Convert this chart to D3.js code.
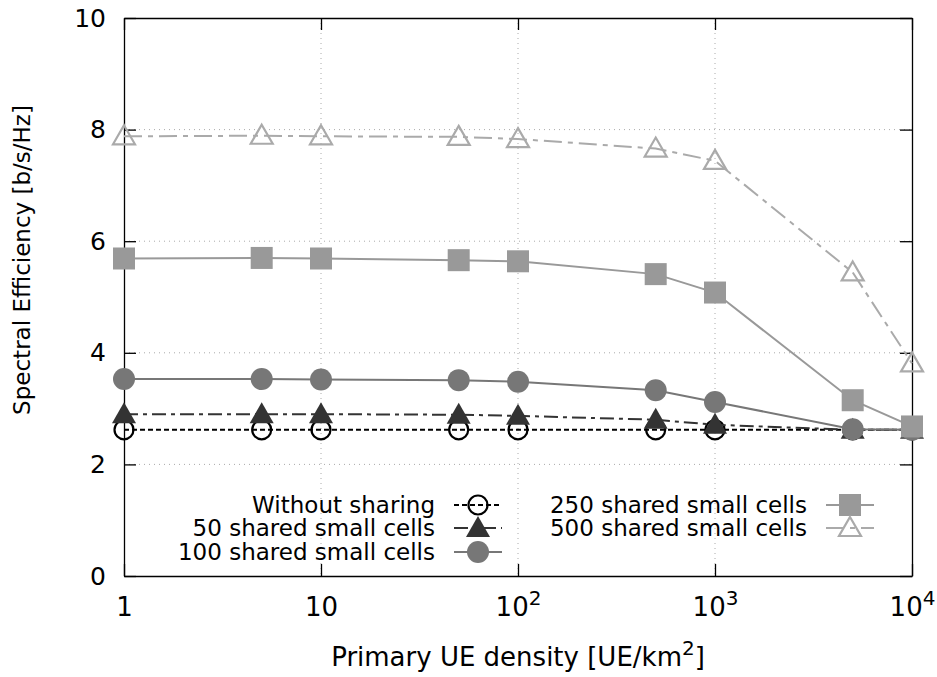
<meta charset="utf-8">
<html>
<head>
<style>
  body { margin: 0; background: #fff; }
  svg text { font-family: "DejaVu Sans", sans-serif; fill: #000; }
</style>
</head>
<body>
<script src="https://d3js.org/d3.v7.min.js"></script>
<div id="chart"></div>
<script>
// data
var density = [1, 5, 10, 50, 100, 500, 1000, 5000, 10000];
var noSharing = [2.62, 2.62, 2.62, 2.62, 2.62, 2.62, 2.62, 2.62, 2.62];
var shared50  = [2.90, 2.90, 2.90, 2.89, 2.87, 2.80, 2.71, 2.62, 2.62];
var shared100 = [3.53, 3.53, 3.52, 3.51, 3.48, 3.33, 3.12, 2.63, 2.62];
var shared250 = [5.69, 5.70, 5.69, 5.66, 5.64, 5.41, 5.08, 3.15, 2.68];
var shared500 = [7.88, 7.89, 7.88, 7.87, 7.83, 7.66, 7.44, 5.44, 3.81];
var seriesNames = ["Without sharing", "50 shared small cells", "100 shared small cells",
                   "250 shared small cells", "500 shared small cells"];
var xTicks = [1, 10, 100, 1000, 10000];
var yTicks = [0, 2, 4, 6, 8, 10];

var W = 937, H = 677;
var margin = {top: 18, right: 25, bottom: 101, left: 124};
var width = W - margin.left - margin.right,
    height = H - margin.top - margin.bottom;

var svg = d3.select("#chart").append("svg")
  .attr("width", W).attr("height", H);
var g = svg.append("g")
  .attr("transform", "translate(" + margin.left + "," + margin.top + ")");

var x = d3.scaleLog().domain([1, 1e4]).range([0, width]);
var y = d3.scaleLinear().domain([0, 10]).range([height, 0]);

// grid
g.append("g")
  .selectAll("line").data(xTicks.slice(1, -1)).enter().append("line")
  .attr("x1", d => x(d)).attr("x2", d => x(d))
  .attr("y1", 0).attr("y2", height)
  .attr("stroke", "#aaa").attr("stroke-width", 1).attr("stroke-dasharray", "1,4");
g.append("g")
  .selectAll("line").data(yTicks.slice(1, -1)).enter().append("line")
  .attr("y1", d => y(d)).attr("y2", d => y(d))
  .attr("x1", 0).attr("x2", width)
  .attr("stroke", "#aaa").attr("stroke-width", 1).attr("stroke-dasharray", "1,4");

// axes (inward ticks, mirrored)
var xAxis = g.append("g").attr("transform", "translate(0," + height + ")")
  .call(d3.axisBottom(x).tickValues(xTicks).tickSizeInner(-12).tickSizeOuter(0)
    .tickFormat(""));
g.append("g").call(d3.axisTop(x).tickValues(xTicks).tickSizeInner(-12).tickSizeOuter(0).tickFormat(""));
g.append("g").call(d3.axisLeft(y).tickValues(yTicks).tickSizeInner(-12).tickSizeOuter(0).tickPadding(18)
    .tickFormat(d3.format("d")))
  .selectAll("text").style("font-size", "25px").attr("fill", "#000");
g.append("g").attr("transform", "translate(" + width + ",0)")
  .call(d3.axisRight(y).tickValues(yTicks).tickSizeInner(-12).tickSizeOuter(0).tickFormat(""));
g.selectAll(".domain").attr("stroke", "#000").attr("stroke-width", 1.3);
g.selectAll(".tick line").attr("stroke", "#000").attr("stroke-width", 1.3);

// x tick labels with superscripts
xAxis.selectAll(".tick").each(function(d) {
  var t = d3.select(this).append("text")
    .attr("y", 40).attr("text-anchor", "middle")
    .style("font-size", "26px");
  var e = Math.round(Math.log10(d));
  if (e < 2) {
    t.text(d);
  } else {
    t.append("tspan").text("10");
    t.append("tspan").attr("dy", -11).style("font-size", "20px").text(e);
  }
});

// axis titles
var xl = svg.append("text")
  .attr("x", margin.left + width / 2).attr("y", 666)
  .attr("text-anchor", "middle").style("font-size", "26px");
xl.append("tspan").text("Primary UE density [UE/km");
xl.append("tspan").attr("dy", -11).style("font-size", "20px").text("2");
xl.append("tspan").attr("dy", 11).text("]");

svg.append("text")
  .attr("transform", "translate(30,260) rotate(-90)")
  .attr("text-anchor", "middle").style("font-size", "23px")
  .text("Spectral Efficiency [b/s/Hz]");

// series styles
var styles = [
  {vals: noSharing, color: "#000", dash: "5,3", marker: "circleOpen"},
  {vals: shared50,  color: "#333", dash: "14,5,4,5", marker: "triangle"},
  {vals: shared100, color: "#777", dash: null, marker: "circle"},
  {vals: shared250, color: "#999", dash: null, marker: "square"},
  {vals: shared500, color: "#aaa", dash: "18,6,5,6", marker: "triangleOpen"}
];

function drawMarker(sel, s) {
  if (s.marker === "circleOpen") {
    sel.append("circle").attr("r", 9.5).attr("fill", "none")
      .attr("stroke", s.color).attr("stroke-width", 2.2);
  } else if (s.marker === "circle") {
    sel.append("circle").attr("r", 11).attr("fill", s.color);
  } else if (s.marker === "square") {
    sel.append("rect").attr("x", -11).attr("y", -11).attr("width", 22).attr("height", 22)
      .attr("fill", s.color);
  } else if (s.marker === "triangle") {
    sel.append("path").attr("d", "M0,-12L12,9L-12,9Z").attr("fill", s.color);
  } else if (s.marker === "triangleOpen") {
    sel.append("path").attr("d", "M0,-11L11,8L-11,8Z").attr("fill", "none")
      .attr("stroke", s.color).attr("stroke-width", 2.2);
  }
}

var line = d3.line().x(d => x(d[0])).y(d => y(d[1]));

styles.forEach(function(s) {
  var pts = density.map((d, i) => [d, s.vals[i]]);
  g.append("path").datum(pts)
    .attr("d", line).attr("fill", "none")
    .attr("stroke", s.color).attr("stroke-width", 2)
    .attr("stroke-dasharray", s.dash);
  g.append("g").selectAll("g").data(pts).enter().append("g")
    .attr("transform", d => "translate(" + x(d[0]) + "," + y(d[1]) + ")")
    .each(function() { drawMarker(d3.select(this), s); });
});

// legend
var legendPos = [
  {tx: 435, ly: 505}, {tx: 435, ly: 528}, {tx: 435, ly: 552},
  {tx: 807, ly: 505}, {tx: 807, ly: 528}
];
styles.forEach(function(s, i) {
  var p = legendPos[i];
  var lg = svg.append("g");
  lg.append("text").attr("x", p.tx).attr("y", p.ly + 8)
    .attr("text-anchor", "end").style("font-size", "23px").text(seriesNames[i]);
  lg.append("line").attr("x1", p.tx + 19).attr("x2", p.tx + 67)
    .attr("y1", p.ly).attr("y2", p.ly)
    .attr("stroke", s.color).attr("stroke-width", 2)
    .attr("stroke-dasharray", s.dash);
  var m = lg.append("g").attr("transform", "translate(" + (p.tx + 43) + "," + p.ly + ")");
  drawMarker(m, s);
});
</script>
</body>
</html>
